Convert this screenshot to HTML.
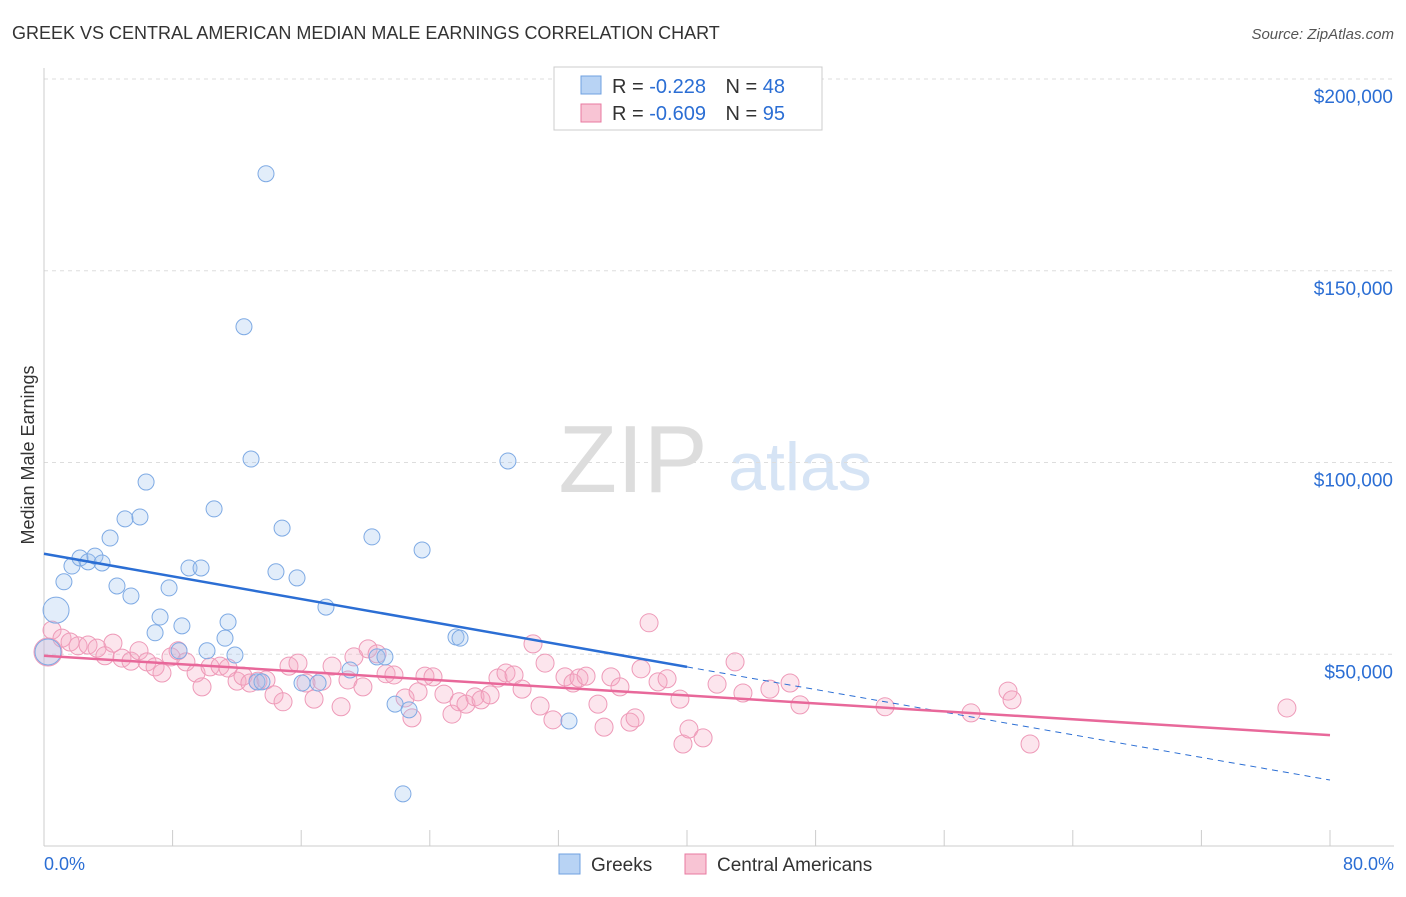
<!DOCTYPE html>
<html><head><meta charset="utf-8"><style>
body{margin:0;background:#fff;font-family:"Liberation Sans",sans-serif;}
svg text{font-family:"Liberation Sans",sans-serif;}
</style></head><body>
<svg id="chart" width="1406" height="892" viewBox="0 0 1406 892" xmlns="http://www.w3.org/2000/svg">
<text x="12" y="39" font-size="18" fill="#333">GREEK VS CENTRAL AMERICAN MEDIAN MALE EARNINGS CORRELATION CHART</text>
<text x="1394" y="39" font-size="15" fill="#555" font-style="italic" text-anchor="end">Source: ZipAtlas.com</text>
<text x="633" y="492" font-size="96" fill="#ddd" font-family="Liberation Serif" text-anchor="middle">ZIP</text>
<text x="800" y="490" font-size="68" fill="#d6e4f5" text-anchor="middle">atlas</text>
<text x="34" y="455" font-size="18" fill="#333" text-anchor="middle" transform="rotate(-90 34 455)">Median Male Earnings</text>
<g id="grid"></g><g id="pts"></g><g id="trends"></g>
<g>
<rect x="554" y="67" width="268" height="63" fill="#fff" stroke="#ccc"/>
<rect x="581" y="76" width="20" height="18" fill="#b8d3f4" stroke="#6fa0e0"/>
<text x="612" y="93" font-size="20" fill="#333">R = <tspan fill="#2b6ed4">-0.228</tspan>  <tspan dx="14">N = </tspan><tspan fill="#2b6ed4">48</tspan></text>
<rect x="581" y="104" width="20" height="18" fill="#f8c4d4" stroke="#e87aa0"/>
<text x="612" y="120" font-size="20" fill="#333">R = <tspan fill="#2b6ed4">-0.609</tspan>  <tspan dx="14">N = </tspan><tspan fill="#2b6ed4">95</tspan></text>
</g>
<g>
<rect x="559" y="854" width="21" height="20" fill="#b8d3f4" stroke="#6fa0e0"/>
<text x="591" y="871" font-size="19" fill="#333">Greeks</text>
<rect x="685" y="854" width="21" height="20" fill="#f8c4d4" stroke="#e87aa0"/>
<text x="717" y="871" font-size="19" fill="#333">Central Americans</text>
</g>
<text x="44" y="870" font-size="18" fill="#2b6ed4">0.0%</text>
<text x="1394" y="870" font-size="18" fill="#2b6ed4" text-anchor="end">80.0%</text>
</svg>
<script>
const yTicks=[50000,100000,150000,200000];
const yTickLabels=["$50,000","$100,000","$150,000","$200,000"];
const xTicks=[0,8,16,24,32,40,48,56,64,72,80];
const greekX=[0.25,0.75,1.24,1.74,2.24,2.74,3.17,3.61,4.11,4.54,5.04,5.41,5.97,6.35,6.91,7.22,7.78,8.40,8.58,9.02,9.77,10.14,10.58,11.26,11.45,11.88,12.44,12.88,13.25,13.56,13.81,14.43,14.81,15.74,16.05,17.05,17.54,19.04,20.40,20.72,21.21,21.84,22.33,22.71,23.52,25.63,25.88,28.86,32.66];
const greekY=[50.6,61.5,68.9,73.0,75.1,74.1,75.6,73.8,80.3,67.8,85.3,65.2,85.8,94.9,55.6,59.7,67.3,50.9,57.4,72.5,72.5,50.9,87.9,54.2,58.4,49.8,135.4,100.9,42.8,42.8,175.3,71.5,82.9,69.9,42.5,42.5,62.3,45.9,80.6,49.3,49.3,37.0,13.6,35.5,77.2,54.5,54.2,100.4,32.6];
const camX=[0.25,0.5,1.12,1.62,2.12,2.74,3.30,3.79,4.29,4.85,5.41,5.91,6.41,6.91,7.34,7.90,8.34,8.83,9.46,9.83,10.33,10.95,11.45,12.01,12.38,12.81,13.31,13.81,14.31,14.87,15.24,15.80,16.30,16.80,17.29,17.92,18.48,18.91,19.28,19.84,20.16,20.72,21.28,21.77,22.46,22.89,23.27,23.70,24.20,24.88,25.38,25.82,26.25,26.81,27.19,27.75,28.24,28.74,29.24,29.74,30.42,30.86,31.17,31.66,32.41,32.91,33.28,33.72,34.46,34.84,35.27,35.83,36.45,36.77,37.14,37.64,38.20,38.76,39.56,39.75,40.12,41.00,41.87,42.99,43.48,45.16,46.41,47.03,52.32,57.67,59.97,60.22,61.34,77.32];
const camY=[50.6,56.3,54.2,53.2,52.2,52.4,51.6,49.6,52.9,49.0,48.2,50.9,48.0,46.7,45.1,49.3,50.9,48.0,45.1,41.5,46.7,46.9,46.4,43.0,44.3,42.5,43.0,43.3,39.4,37.6,46.9,47.7,42.5,38.3,43.0,46.9,36.3,43.3,49.3,41.5,51.4,50.1,44.9,44.6,38.6,33.4,40.2,44.3,44.1,39.6,34.4,37.6,37.0,38.9,38.1,39.4,43.8,45.1,44.6,40.9,52.7,36.5,47.7,32.9,44.1,42.5,43.8,44.3,37.0,31.0,44.1,41.5,32.3,33.4,46.2,58.2,42.8,43.6,38.3,26.6,30.5,28.2,42.2,48.0,39.9,40.9,42.5,36.8,36.3,34.7,40.4,38.1,26.6,36.0];
const greekTrend=[76.2,17.2];
const camTrend=[49.6,28.9];
const NS="http://www.w3.org/2000/svg";
const sx=v=>44+v*(1286/80);
const sy=v=>846-v/200000*767;
function mk(t,a,p){const e=document.createElementNS(NS,t);for(const k in a)e.setAttribute(k,a[k]);p.appendChild(e);return e;}
const grid=document.getElementById('grid');
yTicks.forEach((t,i)=>{
 const l=mk('line',{x1:44,x2:1394,y1:sy(t),y2:sy(t),stroke:'#ddd','stroke-dasharray':'4,4'},grid);
 
 
 const tx=mk('text',{x:1393,y:sy(t)+24,'font-size':19,fill:'#2b6ed4','text-anchor':'end'},grid);
 tx.textContent=yTickLabels[i];
 
 
});
mk('line',{x1:44,x2:44,y1:68,y2:846,stroke:'#ccc'},grid);
mk('line',{x1:44,x2:1394,y1:846,y2:846,stroke:'#ccc'},grid);
xTicks.forEach(t=>{
 const l=mk('line',{x1:sx(t),x2:sx(t),y1:830,y2:846,stroke:'#ccc'},grid);
 
 
});
const pts=document.getElementById('pts');
camX.forEach((x,i)=>{
 const c=mk('circle',{cx:sx(x),cy:sy(camY[i]*1000),r:i==0?14:9,fill:'rgba(244,170,196,0.3)',stroke:'#ee9ab8','stroke-width':1},pts);
 
 
});
greekX.forEach((x,i)=>{
 const c=mk('circle',{cx:sx(x),cy:sy(greekY[i]*1000),r:(i==0||i==1)?13:8,fill:'rgba(160,196,240,0.3)',stroke:'#7eaae4','stroke-width':1},pts);
 
 
});
const tr=document.getElementById('trends');
const gAt=v=>greekTrend[0]+(greekTrend[1]-greekTrend[0])*v/80;
const b1=mk('line',{x1:sx(0),y1:sy(gAt(0)*1000),x2:sx(40),y2:sy(gAt(40)*1000),stroke:'#2b6ed4','stroke-width':2.5},tr);


const b2=mk('line',{x1:sx(40),y1:sy(gAt(40)*1000),x2:sx(80),y2:sy(gAt(80)*1000),stroke:'#2b6ed4','stroke-width':1,'stroke-dasharray':'6,5'},tr);


const p1=mk('line',{x1:sx(0),y1:sy(camTrend[0]*1000),x2:sx(80),y2:sy(camTrend[1]*1000),stroke:'#e8689a','stroke-width':2.5},tr);


</script>
</body></html>
